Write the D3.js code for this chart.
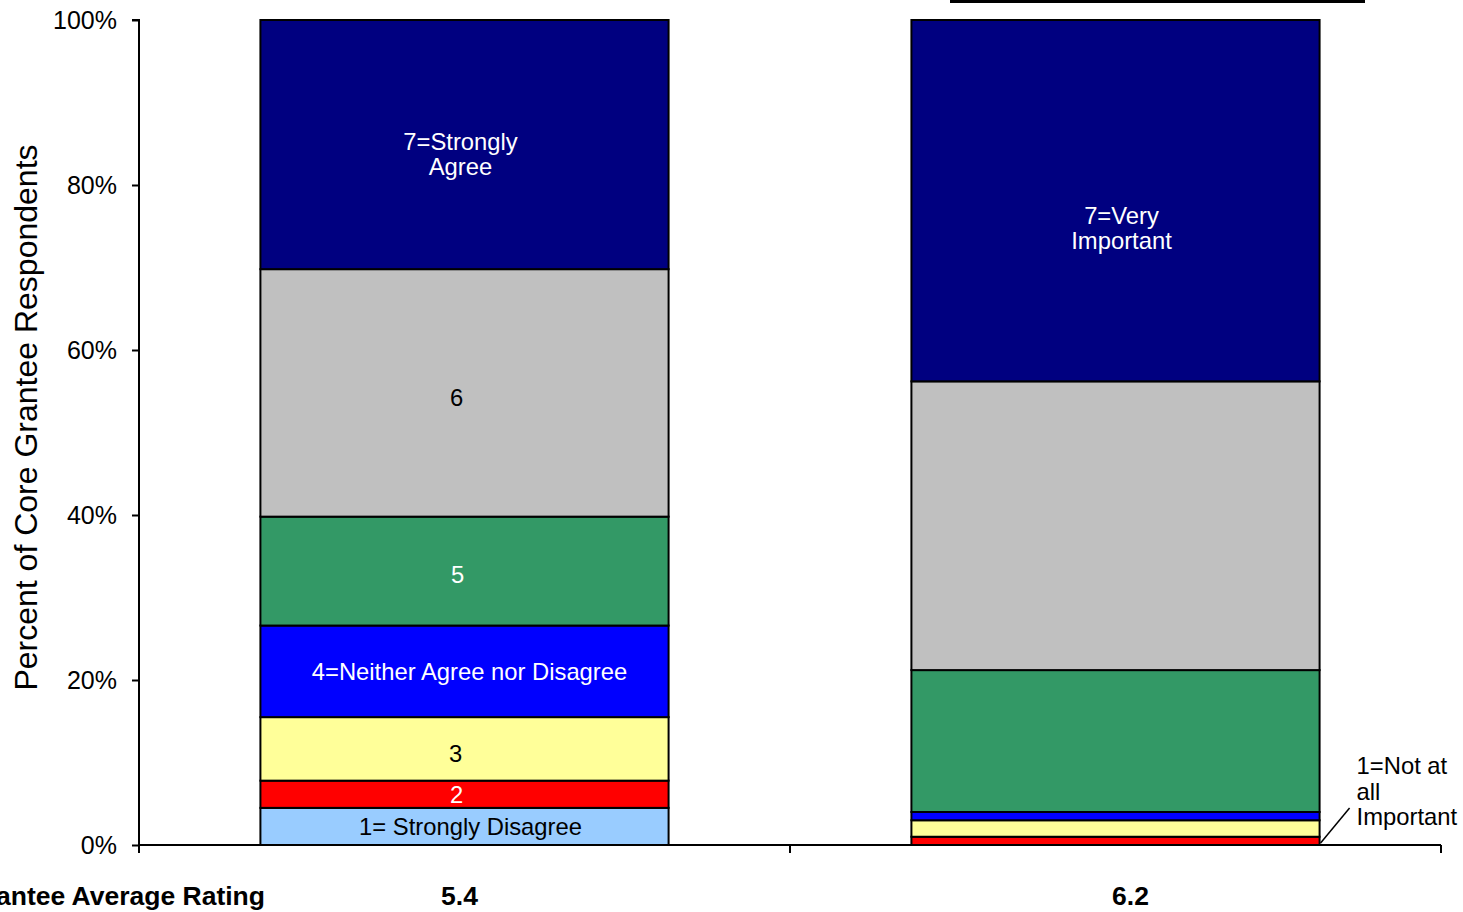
<!DOCTYPE html>
<html>
<head>
<meta charset="utf-8">
<script src="https://cdn.jsdelivr.net/npm/d3@7"></script>
<style>
  html, body { margin: 0; padding: 0; background: #fff; }
  svg { display: block; font-family: Arial, "Liberation Sans", sans-serif; }
</style>
</head>
<body>
<svg id="chart" width="1463" height="912"></svg>
<script>
// Survey questions (one stacked bar each) and their average ratings
const questions = ["agree", "importance"];
const averageRatings = ["5.4", "6.2"];

// Rating levels from 1 (bottom) to 7 (top)
const ratingLevels = [1, 2, 3, 4, 5, 6, 7];
const levelColors = ["#99CCFF", "#FF0000", "#FFFF99", "#0000FF", "#339966", "#C0C0C0", "#000080"];
const levelTextColors = ["#000", "#fff", "#000", "#fff", "#fff", "#000", "#fff"];

// Percent of respondents at each rating level
const agreeShares = [4.5, 3.3, 7.7, 11.1, 13.2, 30.0, 30.2];
const importanceShares = [0.0, 1.0, 2.0, 1.0, 17.2, 35.0, 43.8];

// In-bar labels (lines), indexed by rating level
const agreeLabels = [["1= Strongly Disagree"], ["2"], ["3"], ["4=Neither Agree nor Disagree"], ["5"], ["6"], ["7=Strongly", "Agree"]];
const importanceLabels = [[], [], [], [], [], [], ["7=Very", "Important"]];
const notImportantLabel = ["1=Not at", "all", "Important"];

const yTicks = [0, 20, 40, 60, 80, 100];
const rowTitle = "Grantee Average Rating";
const yTitle = "Percent of Core Grantee Respondents";

const svg = d3.select("#chart");
const plot = { left: 139, right: 1441, top: 20, bottom: 845 };

const x = d3.scaleBand()
  .domain(questions)
  .range([plot.left, plot.right])
  .paddingInner(0.373)
  .paddingOuter(0.1865);

const y = d3.scaleLinear().domain([0, 100]).range([plot.bottom, plot.top]);

const sharesByQuestion = { agree: agreeShares, importance: importanceShares };
const labelsByQuestion = { agree: agreeLabels, importance: importanceLabels };

// Build stacked segments
const segments = [];
questions.forEach(q => {
  let base = 0;
  sharesByQuestion[q].forEach((v, i) => {
    segments.push({ q, i, y0: base, y1: base + v, lines: labelsByQuestion[q][i] });
    base += v;
  });
});

// Frame line across the top (border of the title box above the plot)
svg.append("line")
  .attr("x1", 950).attr("x2", 1365)
  .attr("y1", 1.5).attr("y2", 1.5)
  .attr("stroke", "#000").attr("stroke-width", 3);

// Bars
svg.append("g").selectAll("rect")
  .data(segments.filter(d => d.y1 > d.y0))
  .join("rect")
  .attr("x", d => x(d.q))
  .attr("width", x.bandwidth())
  .attr("y", d => y(d.y1))
  .attr("height", d => y(d.y0) - y(d.y1))
  .attr("fill", d => levelColors[d.i])
  .attr("stroke", "#000")
  .attr("stroke-width", 2);

// Segment labels
const fontSize = 23.8;
const lineH = 25;
const labelShift = { agree: [0, 0, 5, 0, 4, 5, 10], importance: [0, 0, 0, 0, 0, 0, 27] };
const labelDx = { agree: [6, -8, -9, 5, -7, -8, -4], importance: [0, 0, 0, 0, 0, 0, 6] };
const labelG = svg.append("g");
segments.filter(d => d.lines.length).forEach(d => {
  const cx = x(d.q) + x.bandwidth() / 2 + labelDx[d.q][d.i];
  const cy = (y(d.y0) + y(d.y1)) / 2 + labelShift[d.q][d.i];
  const n = d.lines.length;
  d.lines.forEach((t, k) => {
    labelG.append("text")
      .attr("x", cx)
      .attr("y", cy + (k - (n - 1) / 2) * lineH)
      .attr("dy", "0.35em")
      .attr("text-anchor", "middle")
      .attr("font-size", fontSize)
      .attr("fill", levelTextColors[d.i])
      .text(t);
  });
});

// Callout for the empty level-1 segment of the second bar
const calloutX = x("importance") + x.bandwidth();
svg.append("line")
  .attr("x1", calloutX + 1).attr("y1", y(0) - 2)
  .attr("x2", calloutX + 30).attr("y2", y(0) - 37)
  .attr("stroke", "#000").attr("stroke-width", 1.5);
notImportantLabel.forEach((t, k) => {
  svg.append("text")
    .attr("x", calloutX + 37)
    .attr("y", 766 + k * 25.5)
    .attr("dy", "0.35em")
    .attr("font-size", fontSize)
    .attr("fill", "#000")
    .text(t);
});

// Y axis
const yAxis = svg.append("g")
  .attr("transform", `translate(${plot.left},0)`)
  .call(d3.axisLeft(y).tickValues(yTicks).tickSize(7).tickPadding(15).tickFormat(d => d + "%"));
yAxis.select(".domain").attr("stroke", "#000").attr("stroke-width", 2).attr("d", `M-7,${plot.top}H0V${plot.bottom}`);
yAxis.selectAll(".tick line").attr("stroke", "#000").attr("stroke-width", 2);
yAxis.selectAll(".tick text").attr("font-size", 25).attr("fill", "#000").attr("font-family", "Arial, 'Liberation Sans', sans-serif");

// X axis: baseline with ticks at category boundaries
const xAxisG = svg.append("g");
xAxisG.append("line")
  .attr("x1", plot.left).attr("x2", plot.right)
  .attr("y1", plot.bottom).attr("y2", plot.bottom)
  .attr("stroke", "#000").attr("stroke-width", 2);
const boundaries = [plot.left, (x(questions[0]) + x.bandwidth() + x(questions[1])) / 2, plot.right];
xAxisG.selectAll("line.tick")
  .data(boundaries)
  .join("line")
  .attr("class", "tick")
  .attr("x1", d => d).attr("x2", d => d)
  .attr("y1", plot.bottom).attr("y2", plot.bottom + 8)
  .attr("stroke", "#000").attr("stroke-width", 2);

// Average rating row
svg.append("text")
  .attr("x", 265).attr("y", 896)
  .attr("dy", "0.35em")
  .attr("text-anchor", "end")
  .attr("font-size", 26.5)
  .attr("font-weight", "bold")
  .text(rowTitle);
svg.append("g").selectAll("text")
  .data(questions)
  .join("text")
  .attr("x", (d, i) => x(d) + x.bandwidth() / 2 + (i === 0 ? -5 : 15))
  .attr("y", 896)
  .attr("dy", "0.35em")
  .attr("text-anchor", "middle")
  .attr("font-size", 26.5)
  .attr("font-weight", "bold")
  .text((d, i) => averageRatings[i]);

// Y axis title
svg.append("text")
  .attr("transform", `translate(26,${(plot.top + plot.bottom) / 2 - 15}) rotate(-90)`)
  .attr("dy", "0.35em")
  .attr("text-anchor", "middle")
  .attr("font-size", 32)
  .text(yTitle);
</script>
</body>
</html>
